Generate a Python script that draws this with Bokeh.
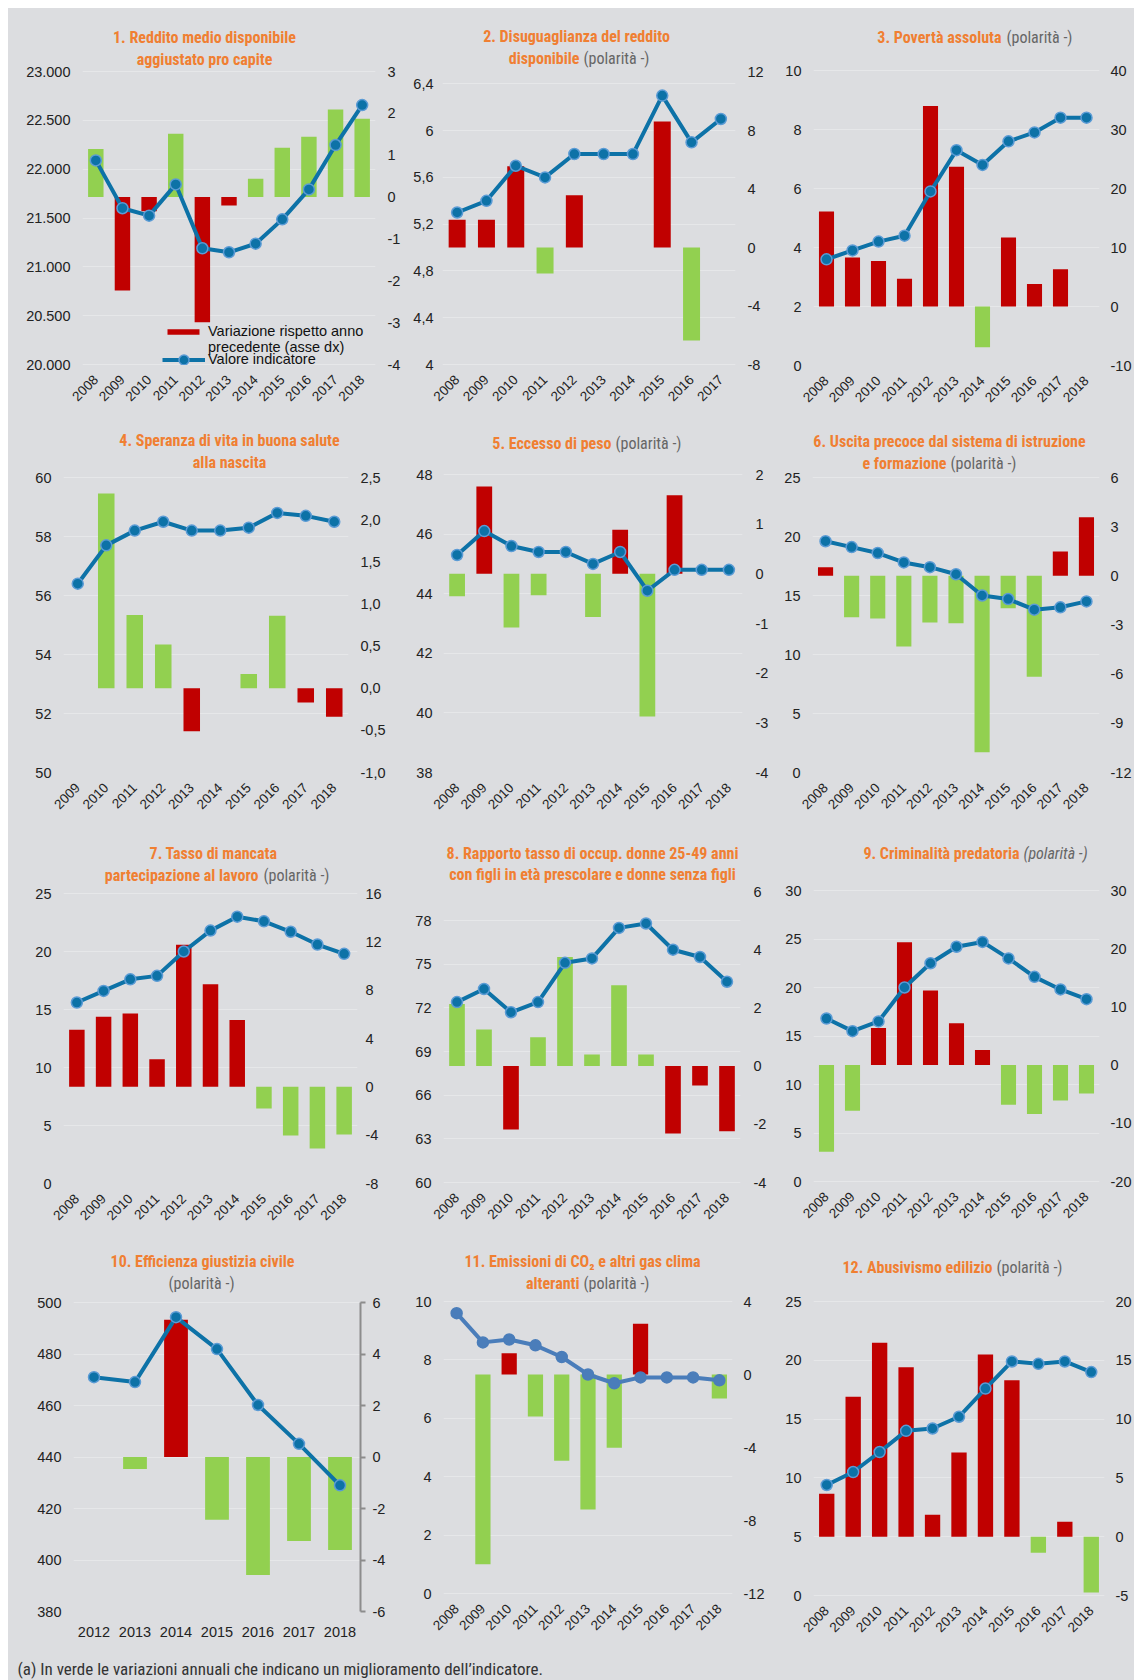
import math
from bokeh.plotting import figure
from bokeh.models import (ColumnDataSource, FactorRange, Range1d, LinearAxis,
                          FixedTicker, Label, Legend, LegendItem)
from bokeh.layouts import column, row
from bokeh.embed import file_html
from bokeh.resources import INLINE

# ---------------- data ----------------
years_08_18 = ["2008", "2009", "2010", "2011", "2012", "2013", "2014", "2015", "2016", "2017", "2018"]
years_08_17 = ["2008", "2009", "2010", "2011", "2012", "2013", "2014", "2015", "2016", "2017"]
years_09_18 = ["2009", "2010", "2011", "2012", "2013", "2014", "2015", "2016", "2017", "2018"]
years_12_18 = ["2012", "2013", "2014", "2015", "2016", "2017", "2018"]

p1_value = [22090, 21600, 21524, 21844, 21190, 21149, 21237, 21486, 21793, 22247, 22656]
p1_change = [1.15, -2.23, -0.34, 1.51, -2.99, -0.20, 0.44, 1.18, 1.44, 2.09, 1.87]
p2_value = [5.3, 5.4, 5.7, 5.6, 5.8, 5.8, 5.8, 6.3, 5.9, 6.1]
p2_change = [1.9, 1.9, 5.56, -1.78, 3.58, 0, 0, 8.62, -6.36, None]
p3_value = [3.6, 3.9, 4.2, 4.4, 5.9, 7.3, 6.8, 7.6, 7.9, 8.4, 8.4]
p3_change = [16.1, 8.3, 7.7, 4.7, 34.0, 23.7, -6.9, 11.7, 3.8, 6.3, 0]
p4_value = [56.4, 57.7, 58.2, 58.5, 58.2, 58.2, 58.3, 58.8, 58.7, 58.5]
p4_change = [None, 2.31, 0.87, 0.52, -0.51, 0, 0.17, 0.86, -0.17, -0.34]
p5_value = [45.3, 46.1, 45.6, 45.4, 45.4, 45.0, 45.4, 44.1, 44.8, 44.8, 44.8]
p5_change = [-0.45, 1.76, -1.08, -0.43, 0, -0.87, 0.89, -2.87, 1.58, 0, 0]
p6_value = [19.6, 19.1, 18.6, 17.8, 17.4, 16.8, 15.0, 14.7, 13.8, 14.0, 14.5]
p6_change = [0.53, -2.53, -2.61, -4.31, -2.84, -2.90, -10.76, -1.98, -6.16, 1.49, 3.57]
p7_value = [15.6, 16.6, 17.6, 17.9, 20.0, 21.8, 23.0, 22.6, 21.7, 20.6, 19.8]
p7_change = [4.72, 5.79, 6.07, 2.29, 11.75, 8.50, 5.54, -1.79, -4.03, -5.10, -3.94]
p8_value = [72.4, 73.3, 71.7, 72.4, 75.1, 75.4, 77.5, 77.8, 76.0, 75.5, 73.8]
p8_change = [2.13, 1.26, -2.18, 0.99, 3.75, 0.40, 2.78, 0.40, -2.32, -0.67, -2.24]
p9_value = [16.8, 15.5, 16.5, 20.0, 22.5, 24.2, 24.7, 23.0, 21.1, 19.8, 18.8]
p9_change = [-14.9, -7.85, 6.36, 21.1, 12.8, 7.2, 2.58, -6.8, -8.4, -6.1, -4.9]
p10_value = [471.0, 469.1, 494.3, 481.9, 460.2, 445.1, 429.0]
p10_change = [None, -0.47, 5.33, -2.44, -4.58, -3.26, -3.61]
p11_value = [9.6, 8.6, 8.7, 8.5, 8.1, 7.5, 7.2, 7.4, 7.4, 7.4, 7.3]
p11_change = [None, -10.4, 1.17, -2.3, -4.73, -7.4, -4.02, 2.78, 0, 0, -1.32]
p12_value = [9.4, 10.5, 12.2, 14.0, 14.2, 15.2, 17.6, 19.9, 19.7, 19.9, 19.0]
p12_change = [3.66, 11.9, 16.5, 14.4, 1.87, 7.15, 15.5, 13.3, -1.36, 1.28, -4.74]

# axis ticks (left = indicator value, right = change)
p1_left_ticks = [20000, 20500, 21000, 21500, 22000, 22500, 23000]
p1_right_ticks = [-4, -3, -2, -1, 0, 1, 2, 3]
p2_left_ticks = [4, 4.4, 4.8, 5.2, 5.6, 6.0, 6.4]
p2_right_ticks = [-8, -4, 0, 4, 8, 12]
p3_left_ticks = [0, 2, 4, 6, 8, 10]
p3_right_ticks = [-10, 0, 10, 20, 30, 40]
p4_left_ticks = [50, 52, 54, 56, 58, 60]
p4_right_ticks = [-1.0, -0.5, 0.0, 0.5, 1.0, 1.5, 2.0, 2.5]
p5_left_ticks = [38, 40, 42, 44, 46, 48]
p5_right_ticks = [-4, -3, -2, -1, 0, 1, 2]
p6_left_ticks = [0, 5, 10, 15, 20, 25]
p6_right_ticks = [-12, -9, -6, -3, 0, 3, 6]
p7_left_ticks = [0, 5, 10, 15, 20, 25]
p7_right_ticks = [-8, -4, 0, 4, 8, 12, 16]
p8_left_ticks = [60, 63, 66, 69, 72, 75, 78]
p8_right_ticks = [-4, -2, 0, 2, 4, 6]
p9_left_ticks = [0, 5, 10, 15, 20, 25, 30]
p9_right_ticks = [-20, -10, 0, 10, 20, 30]
p10_left_ticks = [380, 400, 420, 440, 460, 480, 500]
p10_right_ticks = [-6, -4, -2, 0, 2, 4, 6]
p11_left_ticks = [0, 2, 4, 6, 8, 10]
p11_right_ticks = [-12, -8, -4, 0, 4]
p12_left_ticks = [0, 5, 10, 15, 20, 25]
p12_right_ticks = [-5, 0, 5, 10, 15, 20]

p2_left_range = [4, 6.5]
p8_left_range = [60, 80]

legend_labels = ["Variazione rispetto anno", "precedente (asse dx)", "Valore indicatore"]
footnote = "(a) In verde le variazioni annuali che indicano un miglioramento dell\u2019indicatore."
POL = "(polarit\u00e0 -)"

# ---------------- style ----------------
RED = "#c00000"
GREEN = "#92d050"
BLUE = "#0d72a7"
BLUE_EDGE = "#5b9bd5"
BLUE11 = "#4a7dba"
BG = "#dcdde0"
GRID = "#e6e7e9"
ORANGE = "#f07f32"
GRAYT = "#666666"
TICKC = "#222222"
TFONT = "'Roboto Condensed', 'DejaVu Sans Condensed', 'Open Sans Condensed', 'Liberation Sans Narrow', Roboto"
AFONT = "Liberation Sans"
TSIZE = "16px"

COL_X0 = [8, 405, 778]
COL_W = [397, 373, 356]
ROW_Y0 = [8, 420, 830, 1240]
ROW_H = [412, 410, 410, 405]
FOOT_H = 35


def fmt(v, mode):
    if mode == "k":
        return f"{v:,.0f}".replace(",", ".")
    if mode == "d1":
        return f"{v:.1f}".replace(".", ",")
    return f"{v:g}".replace(".", ",")


# frame geometry: (left border, right border, data-top y, data-bottom y) in page pixels
panels = [
    dict(col=0, row=0, years=years_08_18, value=p1_value, change=p1_change, neg=False,
         lt=p1_left_ticks, lr=[20000, 23000], lf="k", rt=p1_right_ticks, rf="g",
         geo=(74, 30, 71, 364), ls=12, rs=12,
         title=[("1. Reddito medio disponibile", "o", "center", 204, 37),
                ("aggiustato pro capite", "o", "center", 204, 59)]),
    dict(col=1, row=0, years=years_08_17, value=p2_value, change=p2_change, neg=True,
         lt=p2_left_ticks, lr=p2_left_range, lf="g", rt=p2_right_ticks, rf="g",
         geo=(37, 43, 71.7, 364), ls=9, rs=12,
         title=[("2. Disuguaglianza del reddito", "o", "center", 576, 36),
                ("disponibile", "o", "right", 579, 58),
                (POL, "g", "left", 583, 58)]),
    dict(col=2, row=0, years=years_08_18, value=p3_value, change=p3_change, neg=True,
         lt=p3_left_ticks, lr=[0, 10], lf="g", rt=p3_right_ticks, rf="g",
         geo=(35, 32, 70, 365), ls=12, rs=11,
         title=[("3. Povert\u00e0 assoluta", "o", "right", 1001, 37),
                (POL, "g", "left", 1006, 37)]),
    dict(col=0, row=1, years=years_09_18, value=p4_value, change=p4_change, neg=False,
         lt=p4_left_ticks, lr=[50, 60], lf="g", rt=p4_right_ticks, rf="d1",
         geo=(55, 57, 477, 772), ls=12, rs=12,
         title=[("4. Speranza di vita in buona salute", "o", "center", 229, 440),
                ("alla nascita", "o", "center", 229, 462)]),
    dict(col=1, row=1, years=years_08_18, value=p5_value, change=p5_change, neg=True,
         lt=p5_left_ticks, lr=[38, 48], lf="g", rt=p5_right_ticks, rf="g",
         geo=(38, 36, 474, 772), ls=11, rs=13,
         title=[("5. Eccesso di peso", "o", "right", 611, 443),
                (POL, "g", "left", 615, 443)]),
    dict(col=2, row=1, years=years_08_18, value=p6_value, change=p6_change, neg=True,
         lt=p6_left_ticks, lr=[0, 25], lf="g", rt=p6_right_ticks, rf="g",
         geo=(34, 34, 477, 772), ls=12, rs=11,
         title=[("6. Uscita precoce dal sistema di istruzione", "o", "center", 949, 441),
                ("e formazione", "o", "right", 946, 463),
                (POL, "g", "left", 950, 463)]),
    dict(col=0, row=2, years=years_08_18, value=p7_value, change=p7_change, neg=True,
         lt=p7_left_ticks, lr=[0, 25], lf="g", rt=p7_right_ticks, rf="g",
         geo=(55, 48, 893, 1183), ls=12, rs=8,
         title=[("7. Tasso di mancata", "o", "center", 213, 853),
                ("partecipazione al lavoro", "o", "right", 258, 875),
                (POL, "g", "left", 263, 875)]),
    dict(col=1, row=2, years=years_08_18, value=p8_value, change=p8_change, neg=False,
         lt=p8_left_ticks, lr=p8_left_range, lf="g", rt=p8_right_ticks, rf="g",
         geo=(38, 38, 891, 1182), ls=12, rs=13,
         title=[("8. Rapporto tasso di occup. donne 25-49 anni", "o", "center", 592, 853),
                ("con figli in et\u00e0 prescolare e donne senza figli", "o", "center", 592, 874)]),
    dict(col=2, row=2, years=years_08_18, value=p9_value, change=p9_change, neg=True,
         lt=p9_left_ticks, lr=[0, 30], lf="g", rt=p9_right_ticks, rf="g",
         geo=(35, 32, 890, 1181), ls=12, rs=11,
         title=[("9. Criminalit\u00e0 predatoria", "o", "right", 1019, 853),
                (POL, "gi", "left", 1023, 853)]),
    dict(col=0, row=3, years=years_12_18, value=p10_value, change=p10_change, neg=True,
         lt=p10_left_ticks, lr=[380, 500], lf="g", rt=p10_right_ticks, rf="g",
         geo=(65, 45, 1302, 1611), ls=12, rs=7,
         title=[("10. Efficienza giustizia civile", "o", "center", 202, 1261),
                (POL, "g", "center", 201, 1283)]),
    dict(col=1, row=3, years=years_08_18, value=p11_value, change=p11_change, neg=True,
         lt=p11_left_ticks, lr=[0, 10], lf="g", rt=p11_right_ticks, rf="g",
         geo=(38, 46, 1301, 1593), ls=12, rs=11,
         title=[("11. Emissioni di CO\u2082 e altri gas clima", "o", "center", 582, 1261),
                ("alteranti", "o", "right", 579, 1283),
                (POL, "g", "left", 583, 1283)]),
    dict(col=2, row=3, years=years_08_18, value=p12_value, change=p12_change, neg=True,
         lt=p12_left_ticks, lr=[0, 25], lf="g", rt=p12_right_ticks, rf="g",
         geo=(35, 27, 1301, 1595), ls=12, rs=11,
         title=[("12. Abusivismo edilizio", "o", "right", 992, 1267),
                (POL, "g", "left", 996, 1267)]),
]

# plots in one row share their frame bottom: use the lowest one of each row
ROW_FB = {}
for sp in panels:
    ROW_FB[sp["row"]] = max(ROW_FB.get(sp["row"], 0), sp["geo"][3])


def style_vaxis(ax, ticks, mode, standoff):
    ax.ticker = FixedTicker(ticks=ticks)
    ax.major_label_overrides = {t: fmt(t, mode) for t in ticks}
    ax.axis_line_color = None
    ax.major_tick_line_color = None
    ax.minor_tick_line_color = None
    ax.major_tick_out = 0
    ax.major_tick_in = 0
    ax.major_label_standoff = standoff
    ax.major_label_text_font = AFONT
    ax.major_label_text_font_size = "14.5px"
    ax.major_label_text_color = TICKC


def make_panel(idx, sp):
    bl, br, ytop, ybot = sp["geo"]
    W = COL_W[sp["col"]]
    H = ROW_H[sp["row"]]
    y0 = ROW_Y0[sp["row"]]
    fb = ROW_FB[sp["row"]]
    bb = y0 + H - fb
    drop = fb - ybot
    llo, lhi = sp["lr"]
    rlo, rhi = sp["rt"][0], sp["rt"][-1]
    ppl = (ybot - ytop) / (lhi - llo)
    ppr = (ybot - ytop) / (rhi - rlo)
    # the frame reaches the top of the panel so the titles sit inside it
    p = figure(width=W, height=H, x_range=FactorRange(factors=sp["years"]),
               y_range=Range1d(llo - drop / ppl, lhi + (ytop - y0) / ppl),
               output_backend="svg", toolbar_location=None,
               min_border_left=bl, min_border_right=br,
               min_border_top=0, min_border_bottom=bb,
               background_fill_color=BG, border_fill_color=BG,
               outline_line_color=None)
    p.extra_y_ranges = {"right": Range1d(rlo - drop / ppr, rhi + (ytop - y0) / ppr)}

    chg = [float("nan") if c is None else c for c in sp["change"]]
    colors = []
    for c in chg:
        good = (c < 0) if sp["neg"] else (c > 0)
        colors.append(GREEN if good else RED)
    src = ColumnDataSource(dict(year=sp["years"], value=sp["value"], change=chg, color=colors))

    br_r = p.vbar(x="year", top="change", bottom=0, width=0.58, fill_color="color",
                  line_color=None, y_range_name="right", source=src)
    lc = BLUE11 if idx == 10 else BLUE
    ec = BLUE11 if idx == 10 else BLUE_EDGE
    lr = p.line(x="year", y="value", line_color=lc, line_width=4, source=src)
    sr = p.scatter(x="year", y="value", size=11, fill_color=lc, line_color=ec,
                   line_width=1.5, source=src)

    p.xgrid.visible = False
    p.ygrid.grid_line_color = GRID
    p.ygrid.grid_line_width = 1

    style_vaxis(p.yaxis[0], sp["lt"], sp["lf"], sp["ls"])
    rax = LinearAxis(y_range_name="right")
    style_vaxis(rax, sp["rt"], sp["rf"], sp["rs"])
    if idx == 9:
        rax.axis_line_color = "#8c8c8c"
        rax.axis_line_width = 2
        rax.major_tick_line_color = "#8c8c8c"
        rax.major_tick_line_width = 2
        rax.major_tick_out = 5
        rax.bounds = (sp["rt"][0], sp["rt"][-1])
    p.add_layout(rax, "right")

    xa = p.xaxis[0]
    xa.axis_line_color = None
    xa.major_tick_line_color = None
    xa.minor_tick_line_color = None
    xa.major_label_text_font = AFONT
    xa.major_label_text_color = TICKC
    if idx == 9:
        xa.major_label_orientation = "horizontal"
        xa.major_label_text_font_size = "14.5px"
        xa.major_label_standoff = int(round(9 - drop))
    else:
        xa.major_label_orientation = math.pi / 4
        xa.major_label_text_font_size = "13.5px"
        xa.major_label_standoff = int(round(7 - drop))

    # titles (mixed styles) placed inside the frame
    fl = COL_X0[sp["col"]] + bl
    for text, kind, align, X, Y in sp["title"]:
        if kind == "o":
            col, style = ORANGE, "bold"
        elif kind == "gi":
            col, style = GRAYT, "italic"
        else:
            col, style = GRAYT, "normal"
        p.add_layout(Label(x=X - fl, y=fb - Y, x_units="screen", y_units="screen",
                           text=text, text_font=TFONT, text_font_size=TSIZE,
                           text_font_style=style, text_color=col,
                           text_align=align, text_baseline="middle"))

    if idx == 0:
        blank_proxy = p.line(x=[], y=[], line_alpha=0)
        leg_specs = [(LegendItem(label=legend_labels[0], renderers=[br_r], index=1), 163, 40, 5, 7, 331),
                     (LegendItem(label=legend_labels[1], renderers=[blank_proxy]), 163, 40, 5, 7, 347),
                     (LegendItem(label=legend_labels[2], renderers=[lr, sr]), 162, 43, 3, 25, 359)]
        for item, gx, gw, so, gh, cy in leg_specs:
            h = max(gh, 16.6)
            leg = Legend(items=[item],
                         location=(gx - fl, fb - (cy + h / 2)), padding=0, margin=0,
                         spacing=0, label_standoff=so, glyph_width=gw, glyph_height=gh,
                         label_height=14, label_text_font=AFONT,
                         label_text_font_size="14.5px", label_text_color="#111111",
                         border_line_color=None, background_fill_alpha=0)
            p.add_layout(leg)
    return p


figs = [make_panel(i, sp) for i, sp in enumerate(panels)]

foot = figure(width=sum(COL_W), height=FOOT_H, x_range=Range1d(0, 1), y_range=Range1d(0, 1),
              output_backend="svg", toolbar_location=None, x_axis_type=None, y_axis_type=None,
              min_border=0, min_border_left=0, min_border_right=0, min_border_top=0,
              min_border_bottom=0, background_fill_color=BG, border_fill_color=BG,
              outline_line_color=None)
foot.xgrid.visible = False
foot.ygrid.visible = False
foot.add_layout(Label(x=9, y=12, x_units="screen", y_units="screen", text=footnote,
                      text_font=TFONT, text_font_size="17px", text_color="#333333",
                      text_align="left", text_baseline="middle"))

bgstyle = {"background-color": BG}
layout = column(row(*figs[0:3], styles=bgstyle), row(*figs[3:6], styles=bgstyle),
                row(*figs[6:9], styles=bgstyle), row(*figs[9:12], styles=bgstyle), foot,
                styles=bgstyle, margin=(8, 0, 0, 8))

with open("out.html", "w") as f:
    f.write(file_html(layout, INLINE))
